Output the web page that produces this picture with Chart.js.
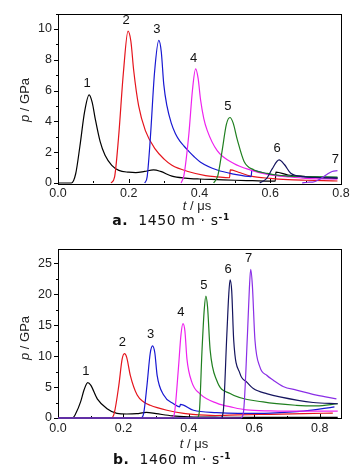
<!DOCTYPE html>
<html>
<head>
<meta charset="utf-8">
<script src="https://cdn.jsdelivr.net/npm/chart.js@4/dist/chart.umd.min.js"></script>
<style>
  html,body{margin:0;padding:0;background:#fff;}
  #wrap{position:relative;width:361px;height:470px;overflow:hidden;background:#fff;font-family:"Liberation Sans",Arial,sans-serif;color:#222;}
  canvas{position:absolute;left:0;}
  .yt{position:absolute;font-size:13px;white-space:nowrap;transform:translate(-50%,-50%) rotate(-90deg);}
  .xt{position:absolute;font-size:13px;white-space:nowrap;transform:translate(-50%,-50%);}
  .cap{position:absolute;font-family:"DejaVu Sans","Noto Sans",sans-serif;font-size:14px;letter-spacing:0.6px;white-space:nowrap;transform:translate(-50%,-50%);color:#111;}
  .cap b{font-weight:bold;}
  .cap sup{font-size:9px;font-weight:bold;}
</style>
</head>
<body>
<div id="wrap">
  <canvas id="ca" width="361" height="205" style="top:0"></canvas>
  <canvas id="cb" width="361" height="205" style="top:235px"></canvas>
  <div class="yt" style="left:24px;top:100px"><i>p</i> / GPa</div>
  <div class="xt" style="left:197px;top:205px"><i>t</i> / μs</div>
  <div class="cap" style="left:171px;top:220px"><b>a.</b>&nbsp;&nbsp;1450&nbsp;m&nbsp;·&nbsp;s<sup>-1</sup></div>
  <div class="yt" style="left:24px;top:338px"><i>p</i> / GPa</div>
  <div class="xt" style="left:194px;top:443px"><i>t</i> / μs</div>
  <div class="cap" style="left:172px;top:459px"><b>b.</b>&nbsp;&nbsp;1460&nbsp;m&nbsp;·&nbsp;s<sup>-1</sup></div>
</div>
<script>
// ---------- data: chart a (1450 m/s) ----------
const curveLabels = ["1","2","3","4","5","6","7"];
const colors = ["#000000","#e5141c","#1818d2","#ee22ee","#1f7f1f","#14145e","#8a2ee6"];

const a1 = [[0,0],[0.038,0],[0.05,0.6],[0.062,2.4],[0.075,4.6],[0.088,5.72],[0.097,5.2],[0.105,4.2],[0.119,2.7],[0.133,1.8],[0.152,1.15],[0.172,0.82],[0.2,0.7],[0.22,0.67],[0.245,0.75],[0.27,0.85],[0.29,0.75],[0.322,0.45],[0.36,0.32],[0.4,0.26],[0.45,0.22],[0.5,0.18],[0.55,0.15],[0.6,0.12],[0.614,0.12],[0.616,0.7],[0.65,0.52],[0.7,0.42],[0.75,0.34],[0.79,0.3]];
const a2 = [[0.15,0],[0.16,0.4],[0.171,2.9],[0.185,7.2],[0.198,9.85],[0.206,9.2],[0.214,7.3],[0.228,5.0],[0.247,3.4],[0.275,2.2],[0.3,1.55],[0.322,1.15],[0.37,0.73],[0.417,0.48],[0.45,0.4],[0.485,0.34],[0.487,0.85],[0.51,0.7],[0.545,0.45],[0.6,0.3],[0.65,0.22],[0.7,0.18],[0.75,0.15],[0.79,0.13]];
const a3 = [[0.245,0],[0.252,0.4],[0.261,2.9],[0.273,7.2],[0.285,9.25],[0.292,8.5],[0.299,6.4],[0.308,5.0],[0.32,3.9],[0.332,3.2],[0.345,2.7],[0.356,2.4],[0.37,2.05],[0.385,1.7],[0.403,1.35],[0.45,0.84],[0.497,0.58],[0.546,0.42],[0.548,0.84],[0.58,0.65],[0.62,0.5],[0.7,0.4],[0.79,0.35]];
const a4 = [[0.348,0],[0.356,0.5],[0.37,3.2],[0.38,6.0],[0.389,7.4],[0.396,6.8],[0.403,5.4],[0.412,4.2],[0.422,3.4],[0.45,2.1],[0.497,1.27],[0.545,0.84],[0.592,0.55],[0.65,0.4],[0.7,0.3],[0.79,0.25]];
const a5 = [[0.44,0],[0.452,0.5],[0.464,2.1],[0.476,3.8],[0.486,4.25],[0.495,3.9],[0.507,2.8],[0.526,1.4],[0.554,0.85],[0.592,0.62],[0.616,0.52],[0.65,0.45],[0.7,0.42],[0.79,0.38]];
const a6 = [[0.57,0],[0.59,0.3],[0.605,0.9],[0.625,1.5],[0.64,1.2],[0.658,0.63],[0.695,0.41],[0.74,0.35],[0.79,0.32]];
const a7 = [[0.69,0],[0.705,0.05],[0.72,0.06],[0.74,0.25],[0.76,0.55],[0.775,0.75],[0.79,0.8]];

// ---------- data: chart b (1460 m/s) ----------
const b1 = [[0,0],[0.044,0],[0.055,0.8],[0.069,2.6],[0.08,4.6],[0.091,5.72],[0.1,5.3],[0.12,3.1],[0.15,1.5],[0.18,0.75],[0.21,0.65],[0.24,0.7],[0.27,0.9],[0.3,0.7],[0.35,0.35],[0.4,0.2],[0.5,0.12],[0.6,0.1],[0.7,0.1],[0.855,0.1]];
const b2 = [[0,0],[0.162,0],[0.172,0.8],[0.186,5.3],[0.196,9.5],[0.203,10.4],[0.21,9.8],[0.221,6.9],[0.242,3.7],[0.262,2.6],[0.282,2.05],[0.333,1.25],[0.384,0.75],[0.45,0.45],[0.48,0.4],[0.55,0.5],[0.65,0.6],[0.75,0.7],[0.84,0.8]];
const b3 = [[0,0],[0.253,0],[0.262,0.8],[0.272,5.3],[0.282,10.5],[0.289,11.65],[0.296,10.5],[0.303,6.9],[0.323,3.7],[0.353,2.3],[0.372,1.8],[0.374,2.2],[0.414,1.25],[0.485,0.86],[0.55,0.75],[0.65,0.8],[0.75,1.1],[0.845,1.8]];
const b4 = [[0,0],[0.348,0],[0.356,0.8],[0.368,8],[0.376,13.5],[0.382,15.25],[0.388,14],[0.394,9.6],[0.409,5.8],[0.434,3.9],[0.485,2.4],[0.536,1.7],[0.577,1.3],[0.65,1.15],[0.75,1.1],[0.855,1.1]];
const b5 = [[0,0],[0.425,0],[0.432,1],[0.44,10.7],[0.447,17.5],[0.452,19.7],[0.457,18],[0.465,11],[0.485,6.1],[0.526,3.95],[0.627,2.6],[0.728,2.05],[0.79,1.95],[0.855,2.3]];
const b6 = [[0,0],[0.497,0],[0.505,1],[0.516,13.4],[0.522,20],[0.526,22.3],[0.531,20.5],[0.537,12.6],[0.556,7.2],[0.577,5.8],[0.597,4.75],[0.64,3.9],[0.678,3.4],[0.78,2.5],[0.855,2.3]];
const b7 = [[0,0],[0.559,0],[0.567,1],[0.579,13.4],[0.585,21],[0.589,24.0],[0.594,21.5],[0.602,12.6],[0.617,8.25],[0.638,6.9],[0.658,6.1],[0.688,5.1],[0.729,4.5],[0.79,3.7],[0.851,3.1]];

const seriesA = [a1,a2,a3,a4,a5,a6,a7];
const seriesB = [b1,b2,b3,b4,b5,b6,b7];

const FONT = {family:"'Liberation Sans', Arial, sans-serif", size:12.5};

function isMajor(v, step){ const r = v/step; return Math.abs(r-Math.round(r))<1e-6; }

const decor = {
  id:'decor',
  beforeDatasetsDraw(chart){
    const {ctx, chartArea:ca} = chart;
    ctx.save();
    ctx.strokeStyle='#000'; ctx.lineWidth=1;
    ctx.strokeRect(Math.round(ca.left)+0.5, Math.round(ca.top)+0.5, Math.round(ca.right-ca.left), Math.round(ca.bottom-ca.top));
    const xs = chart.scales.x, ys = chart.scales.y;
    const o = chart.options.plugins.decor;
    ctx.beginPath();
    ys.ticks.forEach(t=>{
      const py = Math.round(ys.getPixelForValue(t.value))+0.5;
      const len = isMajor(t.value,o.yMajor)?4:2;
      ctx.moveTo(Math.round(ca.left)-len, py); ctx.lineTo(Math.round(ca.left), py);
    });
    xs.ticks.forEach(t=>{
      const px = Math.round(xs.getPixelForValue(t.value))+0.5;
      const len = isMajor(t.value,o.xMajor)?4:2;
      ctx.moveTo(px, Math.round(ca.bottom)); ctx.lineTo(px, Math.round(ca.bottom)-len);
    });
    ctx.stroke();
    ctx.restore();
  },
  afterDatasetsDraw(chart){
    const {ctx} = chart;
    const xs = chart.scales.x, ys = chart.scales.y;
    ctx.save();
    ctx.fillStyle='#111';
    ctx.font = "13px 'Liberation Sans', Arial, sans-serif";
    ctx.textAlign='center'; ctx.textBaseline='middle';
    chart.data.datasets.forEach(ds=>{
      let best = ds.data[0];
      ds.data.forEach(p=>{ if(p.y>best.y) best=p; });
      const px = xs.getPixelForValue(best.x), py = ys.getPixelForValue(best.y);
      ctx.fillText(ds.label, px-2, py-11);
    });
    ctx.restore();
  }
};

function makeChart(id, series, xMax, yMax, yStep, yMajor, padTop){
  const datasets = series.map((s,i)=>({
    label: curveLabels[i],
    data: s.map(p=>({x:p[0], y:p[1]})),
    borderColor: colors[i],
    borderWidth: 1.2,
    pointRadius: 0,
    showLine: true,
    fill: false,
    cubicInterpolationMode: 'monotone',
    clip: false,
    order: series.length - i
  }));
  return new Chart(document.getElementById(id), {
    type:'scatter',
    data:{datasets},
    plugins:[decor],
    options:{
      responsive:false, animation:false, devicePixelRatio:1,
      layout:{padding:{left:0,right:20,top:padTop,bottom:0}},
      plugins:{legend:{display:false}, tooltip:{enabled:false}, decor:{xMajor:0.2, yMajor:yMajor}},
      scales:{
        x:{type:'linear', min:0, max:xMax,
           grid:{display:false, drawTicks:false}, border:{display:false},
           ticks:{stepSize:0.1, includeBounds:false, font:FONT, color:'#222', padding:3, maxRotation:0, autoSkip:false,
                  callback:v=> isMajor(v,0.2) ? v.toFixed(1) : ''},
           afterFit:s=>{s.height=22;}},
        y:{type:'linear', min:0, max:yMax,
           grid:{display:false, drawTicks:false}, border:{display:false},
           ticks:{stepSize:yStep, includeBounds:false, font:FONT, color:'#222', padding:6, autoSkip:false,
                  callback:v=> isMajor(v,yMajor) ? String(v) : ''},
           afterFit:s=>{s.width=58;}}
      }
    }
  });
}

makeChart('ca', seriesA, 0.8, 11, 1, 2, 13);
makeChart('cb', seriesB, 0.865, 27.3, 2.5, 5, 14);
</script>
</body>
</html>
